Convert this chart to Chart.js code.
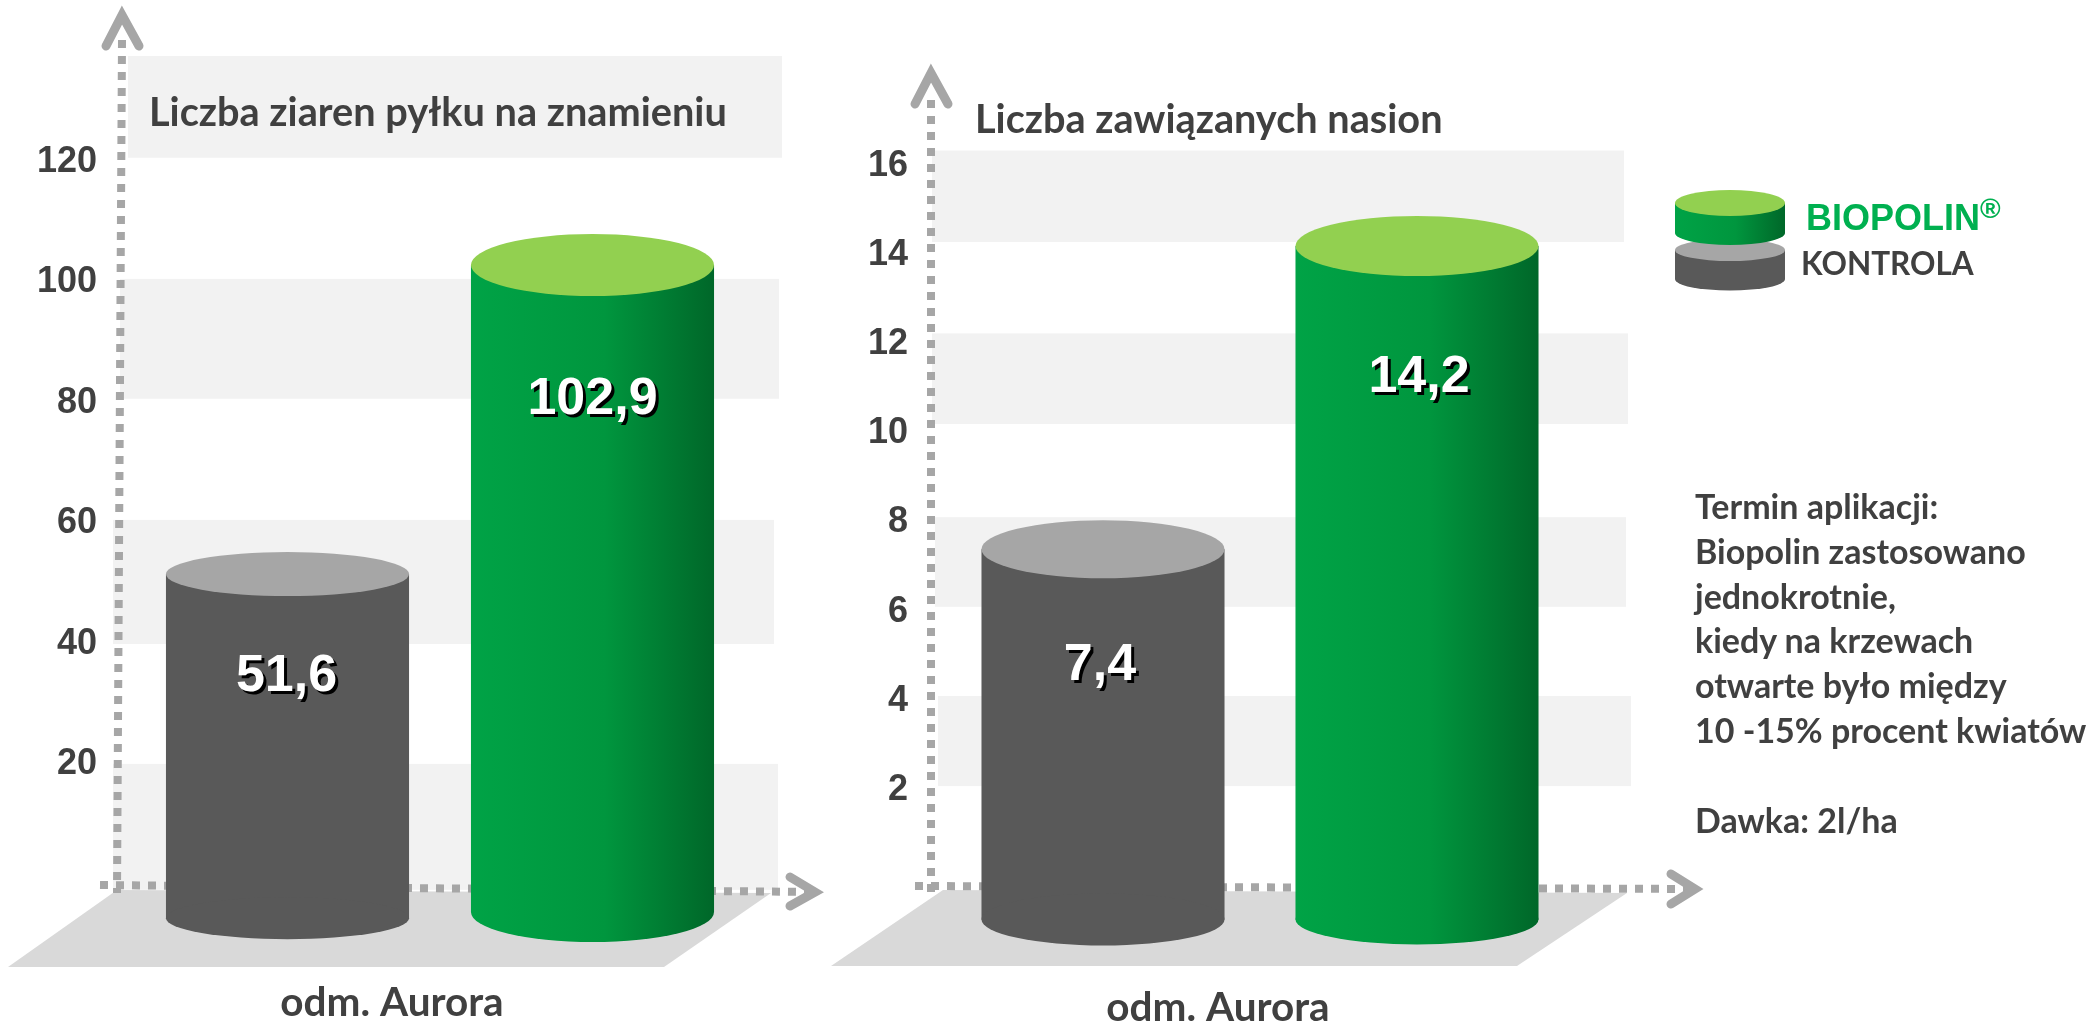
<!DOCTYPE html>
<html lang="pl">
<head>
<meta charset="utf-8">
<title>Biopolin</title>
<script src="https://cdn.jsdelivr.net/npm/chart.js@4"></script>
<style>
	html, body { margin: 0; padding: 0; background: #fff; width: 2094px; height: 1021px; overflow: hidden; }
	canvas { position: absolute; left: 0; top: 0; }
	#note { position: absolute; left: 1695px; top: 484px; font: bold 34px/44.8px Lato, sans-serif; color: #404040; white-space: pre; }
</style>
</head>
<body>
<canvas id="chartPylek" width="2094" height="1021"></canvas>
<canvas id="chartNasiona" width="2094" height="1021"></canvas>
<div id="note"></div>

<script>
const categories = ['odm. Aurora'];
const seriesNames = ['KONTROLA', 'BIOPOLIN®'];

const pylekTitle = 'Liczba ziaren pyłku na znamieniu';
const pylekKontrola = [51.6];
const pylekBiopolin = [102.9];
const pylekTicks = [20, 40, 60, 80, 100, 120];

const nasionaTitle = 'Liczba zawiązanych nasion';
const nasionaKontrola = [7.4];
const nasionaBiopolin = [14.2];
const nasionaTicks = [2, 4, 6, 8, 10, 12, 14, 16];

const noteLines = ['Termin aplikacji:', 'Biopolin zastosowano', 'jednokrotnie,', 'kiedy na krzewach', 'otwarte było między', '10 -15% procent kwiatów', '', 'Dawka: 2l/ha'];

const GREY = '#a6a6a6';
const TEXT = '#404040';

document.getElementById('note').textContent = noteLines.join('\n');

function greenFill(ctx, x0, x1){
	let g = ctx.createLinearGradient(x0, 0, x1, 0);
	g.addColorStop(0, '#00a346');
	g.addColorStop(0.55, '#00963e');
	g.addColorStop(1, '#006729');
	return g;
}

function dashed(ctx, x0, y0, x1, y1){
	ctx.save();
	ctx.strokeStyle = GREY;
	ctx.lineWidth = 8;
	ctx.setLineDash([8, 8]);
	ctx.beginPath();
	ctx.moveTo(x0, y0);
	ctx.lineTo(x1, y1);
	ctx.stroke();
	ctx.restore();
}

function chevron(ctx, pts){
	ctx.save();
	ctx.strokeStyle = GREY;
	ctx.lineWidth = 9;
	ctx.lineCap = 'round';
	ctx.lineJoin = 'miter';
	ctx.beginPath();
	ctx.moveTo(pts[0], pts[1]);
	ctx.lineTo(pts[2], pts[3]);
	ctx.lineTo(pts[4], pts[5]);
	ctx.stroke();
	ctx.restore();
}

function disc(ctx, x, y, rx, ry, fill){
	ctx.fillStyle = fill;
	ctx.beginPath();
	ctx.ellipse(x, y, rx, ry, 0, 0, Math.PI * 2);
	ctx.fill();
}

//tlo, podloga i osie pod slupkami
const scenery = {
	id: 'scenery',
	beforeDatasetsDraw(chart, args, o){
		let ctx = chart.ctx;
		let y = chart.scales.y;
		ctx.save();
		ctx.fillStyle = '#f2f2f2';
		o.bands.forEach(b => {
			let top = y.getPixelForValue(b[1]);
			ctx.fillRect(b[2], top, b[3] - b[2], y.getPixelForValue(b[0]) - top);
		});
		ctx.fillStyle = '#d9d9d9';
		ctx.beginPath();
		o.floor.forEach((p, i) => i ? ctx.lineTo(p[0], p[1]) : ctx.moveTo(p[0], p[1]));
		ctx.closePath();
		ctx.fill();
		ctx.restore();
		dashed(ctx, ...o.axisY);
		dashed(ctx, ...o.axisX);
		chevron(ctx, o.arrowY);
		chevron(ctx, o.arrowX);

		//gradient zalezy od polozenia slupka
		let meta = chart.getDatasetMeta(1).data[0];
		meta.options.backgroundColor = greenFill(ctx, meta.x - meta.width / 2, meta.x + meta.width / 2);
	}
};

//wieczka walcow i wartosci
const cylinders = {
	id: 'cylinders',
	afterDatasetsDraw(chart, args, o){
		let ctx = chart.ctx;
		ctx.save();
		chart.data.datasets.forEach((ds, i) => {
			let el = chart.getDatasetMeta(i).data[0];
			disc(ctx, el.x, el.base, el.width / 2, o.bottomRy[i], el.options.backgroundColor);
			disc(ctx, el.x, el.y, el.width / 2, o.topRy[i], o.topColors[i]);

			ctx.save();
			ctx.font = 'bold 52px "Liberation Sans"';
			ctx.textAlign = 'center';
			ctx.textBaseline = 'middle';
			ctx.fillStyle = '#000';
			let txt = String(ds.data[0]).replace('.', ',');
			ctx.fillText(txt, el.x + o.labelDx[i] + 3, el.y + o.labelDy[i] + 3);
			ctx.fillStyle = '#fff';
			ctx.fillText(txt, el.x + o.labelDx[i], el.y + o.labelDy[i]);
			ctx.restore();
		});
		ctx.fillStyle = TEXT;
		ctx.font = 'bold 39.7px Lato';
		ctx.textBaseline = 'middle';
		ctx.fillText(o.title, o.titleX, o.titleY);
		ctx.restore();
	}
};

//legenda z nazw serii
const stackLegend = {
	id: 'stackLegend',
	afterDraw(chart){
		let ctx = chart.ctx;
		let x = 1730, rx = 55;
		ctx.save();

		disc(ctx, x, 279, rx, 11.5, '#595959');
		ctx.fillStyle = '#595959';
		ctx.fillRect(x - rx, 250, rx * 2, 29);
		disc(ctx, x, 250, rx, 11, GREY);

		let g = greenFill(ctx, x - rx, x + rx);
		disc(ctx, x, 233, rx, 12, g);
		ctx.fillStyle = g;
		ctx.fillRect(x - rx, 203, rx * 2, 30);
		disc(ctx, x, 203, rx, 13, '#92d050');

		ctx.textBaseline = 'middle';
		ctx.font = 'bold 36px "Liberation Sans"';
		ctx.fillStyle = '#00b050';
		let name = seriesNames[1].replace('®', '');
		ctx.fillText(name, 1806, 220);
		let w = ctx.measureText(name).width;
		ctx.font = 'bold 28px "Liberation Sans"';
		ctx.fillText('®', 1806 + w, 210);

		ctx.font = 'bold 31.5px Lato';
		ctx.fillStyle = TEXT;
		ctx.fillText(seriesNames[0], 1801, 265);
		ctx.restore();
	}
};

function makeChart(id, kontrola, biopolin, ticks, scale, decor, plugins){
	return new Chart(document.getElementById(id), {
		type: 'bar',
		data: {
			labels: categories,
			datasets: [
				{ label: seriesNames[0], data: kontrola, base: scale.bases[0], backgroundColor: '#595959' },
				{ label: seriesNames[1], data: biopolin, base: scale.bases[1], backgroundColor: '#00963e' }
			]
		},
		options: {
			responsive: false,
			animation: false,
			events: [],
			barPercentage: scale.barPct,
			categoryPercentage: 1,
			layout: { padding: { top: scale.top, right: scale.padRight, left: 0, bottom: 0 } },
			scales: {
				x: {
					grid: { display: false, drawTicks: false },
					border: { display: false },
					afterFit: s => { s.height = scale.xHeight; },
					ticks: { color: TEXT, font: { family: 'Lato', weight: 'bold', size: 40.5 }, padding: scale.labelPad, labelOffset: scale.labelOffset }
				},
				y: {
					min: scale.min,
					max: scale.max,
					grid: { display: false, drawTicks: false },
					border: { display: false },
					//tick padding inaczej rozpycha wykres w pionie
					afterFit: s => { s.width = scale.yWidth; s.paddingTop = 0; s.paddingBottom = 0; },
					ticks: {
						stepSize: scale.step,
						autoSkip: false,
						padding: 38,
						color: TEXT,
						font: { family: '"Liberation Sans"', weight: 'bold', size: 36 },
						callback: v => ticks.includes(v) ? String(v) : ''
					}
				}
			},
			plugins: {
				legend: { display: false },
				tooltip: { enabled: false },
				scenery: decor,
				cylinders: decor
			}
		},
		plugins: [scenery, cylinders].concat(plugins)
	});
}

makeChart('chartPylek', pylekKontrola, pylekBiopolin, pylekTicks, {
	min: -10, max: 140, step: 20, top: 41.5, xHeight: 75.75, yWidth: 135, padRight: 1349,
	bases: [-5.5, -4.5], barPct: 0.797, labelPad: 33, labelOffset: -48
}, {
	bands: [[-0.8, 20.1, 113, 778], [40, 60.6, 113, 774], [80.7, 100.6, 120, 779], [120.7, 137.6, 128, 782]],
	floor: [[117, 890], [771, 893], [664, 967], [8, 967]],
	axisY: [122, 40, 117, 893],
	axisX: [100, 885, 812, 892],
	arrowY: [106, 46, 122, 15, 139, 46],
	arrowX: [790, 877, 815, 892, 790, 906],
	topRy: [22, 31], bottomRy: [21, 30],
	topColors: [GREY, '#92d050'],
	labelDx: [-1, 0], labelDy: [103, 135],
	title: pylekTitle, titleX: 149, titleY: 113
}, []);

makeChart('chartNasiona', nasionaKontrola, nasionaBiopolin, nasionaTicks, {
	min: -2, max: 18, step: 2, top: 76.5, xHeight: 52.5, yWidth: 946, padRight: 520,
	bases: [-0.9, -0.9], barPct: 0.774, labelPad: 15, labelOffset: -42
}, {
	bands: [[2.09, 4.11, 938, 1631], [6.11, 8.12, 935, 1626], [10.21, 12.24, 932, 1628], [14.29, 16.34, 932, 1624]],
	floor: [[943, 890], [1627, 893], [1517, 966], [831, 966]],
	axisY: [931, 100, 931, 895],
	axisX: [915, 886, 1692, 889],
	arrowY: [915, 104, 931, 73, 948, 104],
	arrowX: [1671, 874, 1695, 889, 1671, 904],
	topRy: [29, 30], bottomRy: [26, 25],
	topColors: [GREY, '#92d050'],
	labelDx: [-3, 2], labelDy: [116, 132],
	title: nasionaTitle, titleX: 975, titleY: 120
}, [stackLegend]);
</script>
</body>
</html>
